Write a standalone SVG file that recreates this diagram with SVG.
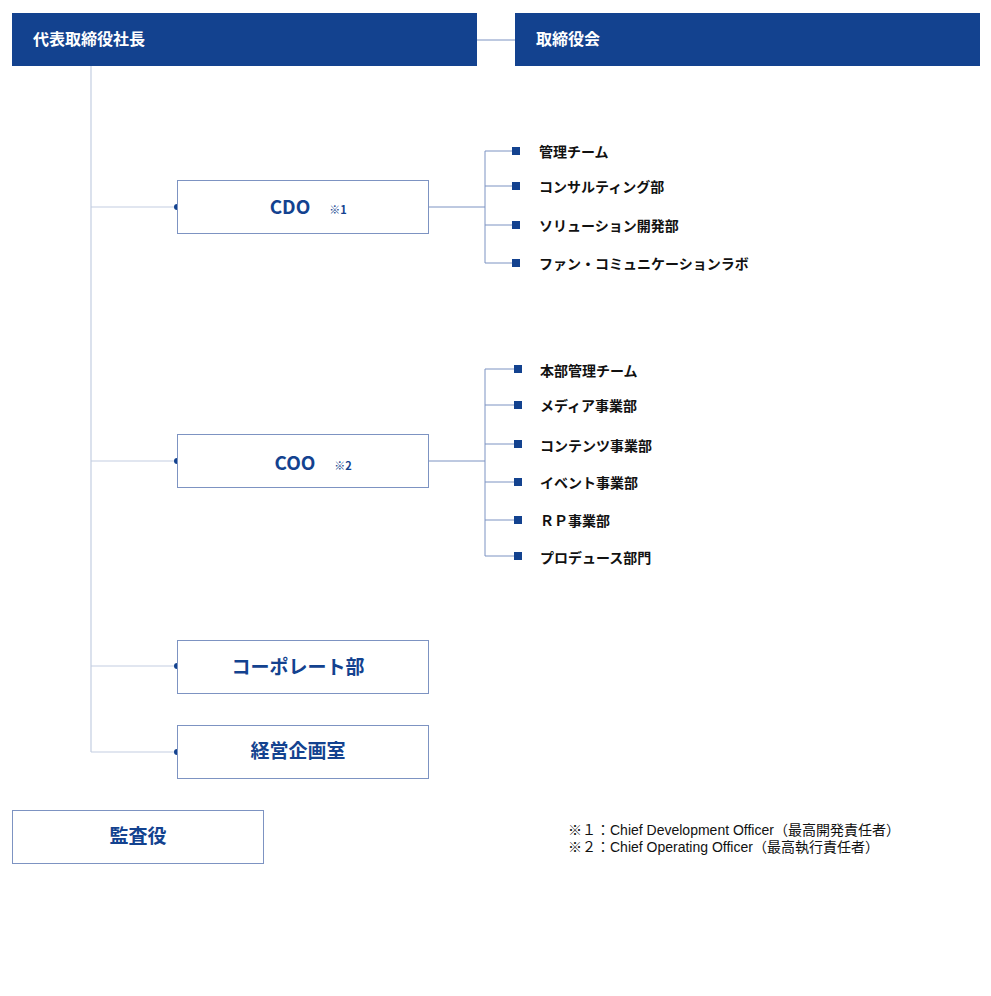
<svg xmlns="http://www.w3.org/2000/svg" width="991" height="996" viewBox="0 0 991 996">
<style>
.hd{fill:#13428f}
.ht{fill:#fff;font-family:"Noto Sans CJK JP",sans-serif;font-size:16px;font-weight:bold}
.bx{fill:#fff;stroke:#7d93c2;stroke-width:1}
.bt{fill:#13428f;font-family:"Noto Sans CJK JP",sans-serif;font-size:19px;font-weight:bold;text-anchor:middle}
.nt{font-size:11px}
.it{fill:#111;font-family:"Noto Sans CJK JP",sans-serif;font-size:14px;font-weight:bold}
.ln{stroke:#7d93c2;stroke-width:1;fill:none}
.tr{stroke:#c3cee1;stroke-width:1.2;fill:none}
.sq{fill:#13428f}
.dt{fill:#13428f}
.fn{fill:#111;font-family:"Liberation Sans","Noto Sans CJK JP",sans-serif;font-size:14px}
</style>
<g id="connectors">
<path class="tr" d="M91 66V752"/>
<path class="ln" d="M477 40H515"/>
<path class="tr" d="M91 207H177M91 461H177M91 666H177M91 752H177"/>
<path class="ln" d="M428 207H485M485 151V263M485 151H512M485 186H512M485 225H512M485 263H512"/>
<path class="ln" d="M428 461H485M485 369V556M485 369H514M485 405H514M485 444H514M485 482H514M485 520H514M485 556H514"/>
<circle class="dt" cx="177" cy="207" r="3"/><circle class="dt" cx="177" cy="461" r="3"/><circle class="dt" cx="177" cy="666" r="3"/><circle class="dt" cx="177" cy="752" r="3"/>
</g>
<g id="ceo"><rect class="hd" x="12" y="13" width="465" height="53"/><text class="ht" x="33" y="45">代表取締役社長</text></g>
<g id="board"><rect class="hd" x="515" y="13" width="465" height="53"/><text class="ht" x="536" y="45">取締役会</text></g>
<g id="cdo"><rect class="bx" x="177.5" y="180.5" width="251" height="53"/><text class="bt" x="290" y="214">CDO</text><text class="bt nt" x="338" y="214">※1</text></g>
<g id="coo"><rect class="bx" x="177.5" y="434.5" width="251" height="53"/><text class="bt" x="295" y="470">COO</text><text class="bt nt" x="343" y="470">※2</text></g>
<g id="corp"><rect class="bx" x="177.5" y="640.5" width="251" height="53"/><text class="bt" x="298" y="674">コーポレート部</text></g>
<g id="plan"><rect class="bx" x="177.5" y="725.5" width="251" height="53"/><text class="bt" x="298" y="758">経営企画室</text></g>
<g id="audit"><rect class="bx" x="12.5" y="810.5" width="251" height="53"/><text class="bt" x="138" y="843">監査役</text></g>
<g id="cdo-items">
<rect class="sq" x="512" y="147" width="8" height="8"/><text class="it" x="539" y="157">管理チーム</text>
<rect class="sq" x="512" y="182" width="8" height="8"/><text class="it" x="539" y="192">コンサルティング部</text>
<rect class="sq" x="512" y="221" width="8" height="8"/><text class="it" x="539" y="231">ソリューション開発部</text>
<rect class="sq" x="512" y="259" width="8" height="8"/><text class="it" x="539" y="269">ファン・コミュニケーションラボ</text>
</g>
<g id="coo-items">
<rect class="sq" x="514" y="365" width="8" height="8"/><text class="it" x="540" y="376">本部管理チーム</text>
<rect class="sq" x="514" y="401" width="8" height="8"/><text class="it" x="540" y="411">メディア事業部</text>
<rect class="sq" x="514" y="440" width="8" height="8"/><text class="it" x="540" y="451">コンテンツ事業部</text>
<rect class="sq" x="514" y="478" width="8" height="8"/><text class="it" x="540" y="488">イベント事業部</text>
<rect class="sq" x="514" y="516" width="8" height="8"/><text class="it" x="540" y="526">ＲＰ事業部</text>
<rect class="sq" x="514" y="552" width="8" height="8"/><text class="it" x="540" y="563">プロデュース部門</text>
</g>
<g id="notes"><text class="fn" x="568" y="835">※１：Chief Development Officer（最高開発責任者）</text><text class="fn" x="568" y="852">※２：Chief Operating Officer（最高執行責任者）</text></g>
</svg>
